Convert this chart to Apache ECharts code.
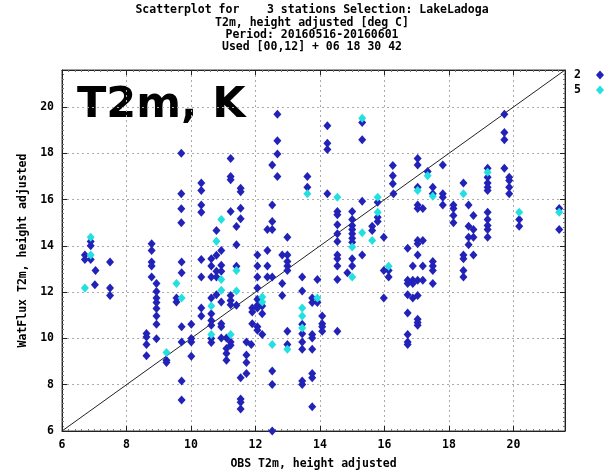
<!DOCTYPE html>
<html>
<head>
<meta charset="utf-8">
<script src="https://cdn.jsdelivr.net/npm/echarts@6/dist/echarts.min.js"></script>
<style>html,body{margin:0;padding:0;background:#fff;}#c{width:607px;height:475px;}</style>
</head>
<body>
<div id="c"></div>
<script>
// ---- data ----
var titleLines = [
  'Scatterplot for    3 stations Selection: LakeLadoga',
  'T2m, height adjusted [deg C]',
  'Period: 20160516-20160601',
  'Used [00,12] + 06 18 30 42'
];
var bigLabel = 'T2m, K';
var xName = 'OBS T2m, height adjusted';
var yName = 'WatFlux T2m, height adjusted';
var axisMin = 6, axisMax = 21.6, axisStep = 2;
var seriesNames = ['2', '5'];
var diagonal = [6, 21.6];

// station group "2" (blue)
var blueX = [
 9.7,9.7,9.7,9.7,10.32,10.32,10.32,10.32,10.79,10.94,6.89,6.89,8.78,8.78,
 6.71,6.71,6.89,7.49,7.04,7.02,7.49,7.49,8.78,8.78,8.78,
 8.93,8.93,8.93,8.93,8.93,8.93,8.93,8.93,8.62,8.62,8.62,8.62,
 9.71,9.71,9.55,9.55,9.71,9.71,9.24,9.24,9.71,9.71,
 10.01,10.01,10.01,10.01,10.32,10.32,10.32,10.32,10.63,10.63,10.63,
 10.79,10.79,10.79,10.94,10.94,10.79,10.63,10.94,10.63,10.63,10.63,10.94,10.94,
 10.63,10.63,10.94,11.1,11.1,11.1,11.1,
 12.68,12.68,12.68,12.52,12.68,13.61,13.61,12.52,12.52,12.37,12.52,12.99,11.41,
 11.23,11.23,11.23,11.54,11.54,11.23,11.54,11.54,11.41,
 14.23,14.23,14.23,15.31,15.31,14.23,
 14.54,14.54,14.54,14.54,14.54,15.0,15.0,15.0,15.0,15.0,15.0,15.0,
 15.31,15.62,15.62,15.79,15.79,15.79,15.98,16.26,16.26,16.26,
 11.41,11.23,11.23,11.23,11.41,11.23,11.23,
 11.72,11.87,11.72,11.72,11.72,11.54,11.54,11.54,11.54,
 12.06,12.06,12.06,12.06,12.37,12.37,12.37,12.52,
 12.83,12.99,12.99,12.99,12.99,12.83,12.83,
 12.06,12.06,12.06,11.9,11.9,12.21,12.21,11.9,12.06,12.06,12.21,
 12.52,12.52,12.52,12.99,12.99,
 13.45,13.45,13.45,13.45,13.45,13.45,13.45,13.45,
 13.76,13.76,13.92,13.76,13.76,13.76,13.76,13.76,13.76,13.92,
 14.07,14.07,14.07,14.07,14.54,14.54,14.54,14.54,14.54,
 14.85,15.0,15.0,15.31,15.98,16.13,16.13,15.98,
 19.72,19.72,19.72,19.72,19.87,19.87,19.87,19.87,
 19.2,19.2,19.2,19.2,19.2,19.2,19.2,19.2,19.2,19.2,
 20.18,20.18,21.42,21.42,16.28,
 17.03,17.03,17.03,17.34,17.5,17.5,17.81,17.81,17.81,17.81,
 17.03,17.03,17.19,18.14,18.14,18.14,18.14,18.45,18.61,18.76,
 18.61,18.76,18.61,18.76,18.61,17.03,17.19,17.03,16.72,
 17.03,16.88,17.19,17.5,17.5,17.5,
 16.72,16.88,17.03,17.19,16.72,16.88,17.5,
 16.72,16.88,17.03,16.72,17.03,17.03,17.03,16.72,16.72,16.72,
 18.45,18.45,18.76,18.45,18.45
];
var blueY = [
 18.0,16.25,15.6,15.0,16.72,16.39,15.77,15.45,14.66,13.8,14.19,14.0,14.09,13.8,
 13.61,13.41,13.41,13.3,12.94,12.32,12.18,11.86,13.3,13.13,12.65,
 12.37,12.03,11.75,11.55,11.29,10.97,10.61,9.99,10.21,10.06,9.74,9.25,
 13.3,12.84,11.75,11.57,10.5,9.85,9.06,8.96,8.16,7.34,
 10.61,10.0,9.85,9.23,13.41,12.65,11.31,10.97,13.44,13.13,12.65,
 13.59,12.9,12.65,13.16,12.9,11.89,11.75,11.57,11.07,10.78,10.57,10.64,10.5,
 10.0,9.82,10.02,10.02,9.56,9.35,9.06,
 19.69,18.54,17.97,17.5,17.0,17.0,16.53,15.77,15.05,14.71,14.71,14.37,14.05,
 17.78,17.0,16.86,16.49,16.34,15.48,15.63,15.17,14.84,
 19.19,18.44,18.16,19.33,18.59,16.25,
 15.48,15.34,14.91,14.52,14.19,15.48,15.14,14.88,14.71,14.52,14.33,14.16,
 15.93,14.85,14.66,15.88,15.24,15.05,14.37,17.47,17.03,16.68,
 13.12,11.86,11.64,11.46,11.43,9.85,9.71,
 9.85,9.74,9.28,8.96,8.49,8.3,7.38,7.24,6.95,
 13.61,13.13,12.65,12.18,13.8,13.13,12.65,12.65,
 13.61,13.61,13.33,13.13,12.94,12.37,11.86,
 11.69,11.43,11.31,11.31,11.14,11.4,11.07,10.64,10.5,10.35,10.17,
 8.59,8.01,6.0,10.31,9.74,
 12.65,12.05,10.61,10.2,9.85,9.53,8.16,8.01,
 11.75,11.55,11.55,10.17,10.02,9.53,8.49,8.3,7.05,12.55,
 10.97,10.64,10.5,10.31,13.61,13.44,13.13,12.55,10.31,
 12.84,13.44,13.13,13.61,12.94,12.94,12.65,11.75,
 19.69,18.9,18.59,17.35,16.96,16.82,16.53,16.25,
 17.35,16.96,16.72,16.53,16.39,15.45,15.14,14.88,14.71,14.37,
 15.14,14.85,15.62,14.71,16.25,
 17.78,17.5,16.53,17.21,16.53,16.25,17.5,16.25,16.1,15.77,
 15.77,15.62,15.62,15.77,15.62,15.31,15.0,16.72,15.77,15.31,
 14.85,14.71,14.37,14.37,14.05,14.23,14.23,14.09,13.9,
 13.61,13.13,13.13,13.33,13.13,12.94,
 12.51,12.51,12.51,12.51,12.37,12.37,12.37,
 11.89,11.75,11.86,11.1,10.83,10.69,10.57,10.17,9.85,9.74,
 13.61,13.44,13.61,12.94,12.65
];
// station group "5" (cyan)
var cyanX = [
 10.94,10.79,6.89,6.89,6.71,9.55,9.71,9.24,10.94,10.94,10.63,10.63,
 13.61,15.31,14.54,15.31,15.62,15.79,15.79,
 11.41,11.41,11.23,12.21,12.21,12.52,12.99,13.45,13.45,13.45,13.92,15.0,15.0,16.13,
 19.2,20.18,21.42,17.03,17.34,17.5,18.45
];
var cyanY = [
 15.14,14.2,14.37,13.61,12.18,12.37,11.75,9.39,12.55,12.08,11.4,10.17,
 16.25,19.52,16.1,14.57,14.23,16.1,15.45,
 12.94,12.05,10.17,11.79,11.57,9.74,9.53,11.31,10.97,10.45,11.75,13.95,12.65,13.12,
 17.18,15.45,15.45,16.39,17.03,16.14,16.25
];
var colors = ['#2222b8', '#22e0e0'];

function zip(xs, ys) { return xs.map(function (x, i) { return [x, ys[i]]; }); }

var mono = 'DejaVu Sans Mono';
var chart = echarts.init(document.getElementById('c'), null, { renderer: 'canvas' });

function axisCommon(show) {
  return {
    type: 'value', min: axisMin, max: axisMax, interval: axisStep,
    axisLine: { show: true, lineStyle: { color: '#222', width: 1 } },
    axisTick: { show: true, inside: true, length: 5, lineStyle: { color: '#222' } },
    minorTick: { show: true, splitNumber: 10, length: 2, lineStyle: { color: '#777' } },
    splitLine: { show: show, lineStyle: { color: '#aaa', type: [2, 3], width: 1 } },
    axisLabel: { show: show, showMaxLabel: false, color: '#000', fontFamily: mono, fontWeight: 'bold', fontSize: 11.5, margin: 8 }
  };
}

var xMain = axisCommon(true);
xMain.position = 'bottom';
xMain.name = xName; xMain.nameLocation = 'middle'; xMain.nameGap = 27;
xMain.nameTextStyle = { color: '#000', fontFamily: mono, fontWeight: 'bold', fontSize: 11.5 };
var xTop = axisCommon(false); xTop.position = 'top';
var yMain = axisCommon(true);
yMain.position = 'left';
yMain.name = yName; yMain.nameLocation = 'middle'; yMain.nameGap = 31;
yMain.nameTextStyle = { color: '#000', fontFamily: mono, fontWeight: 'bold', fontSize: 11.5 };
var yRight = axisCommon(false); yRight.position = 'right';

var option = {
  backgroundColor: '#fff',
  animation: false,
  grid: { left: 62, right: 42, top: 70, bottom: 44, show: true, borderColor: '#444', borderWidth: 1 },
  xAxis: [xMain, xTop],
  yAxis: [yMain, yRight],
  legend: {
    data: seriesNames.map(function (n) { return { name: n, icon: 'diamond' }; }),
    orient: 'vertical', right: 3, top: 69, align: 'right', padding: 0,
    itemWidth: 8, itemHeight: 9, itemGap: 3,
    textStyle: { color: '#000', fontFamily: mono, fontWeight: 'bold', fontSize: 11.5, padding: [0, 10, 0, 0] }
  },
  graphic: [
    {
      type: 'text', x: 312, y: 4,
      style: {
        text: titleLines.join('\n'), fontFamily: mono, fontWeight: 'bold', fontSize: 11.5,
        lineHeight: 12.4, fill: '#000', align: 'center', textAlign: 'center'
      }
    },
    {
      type: 'text', left: 77, top: 84,
      style: { text: bigLabel, fontFamily: 'DejaVu Sans', fontWeight: 'bold', fontSize: 43, fill: '#000' }
    }
  ],
  series: [
    {
      type: 'line', data: [[diagonal[0], diagonal[0]], [diagonal[1], diagonal[1]]],
      symbol: 'none', silent: true, lineStyle: { color: '#222', width: 1 }, z: 1
    },
    {
      name: seriesNames[0], type: 'scatter', data: zip(blueX, blueY),
      symbol: 'diamond', symbolSize: [8, 9], itemStyle: { color: colors[0], opacity: 1 }, z: 2
    },
    {
      name: seriesNames[1], type: 'scatter', data: zip(cyanX, cyanY),
      symbol: 'diamond', symbolSize: [8, 9], itemStyle: { color: colors[1], opacity: 1 }, z: 3
    }
  ]
};
chart.setOption(option);
</script>
</body>
</html>
